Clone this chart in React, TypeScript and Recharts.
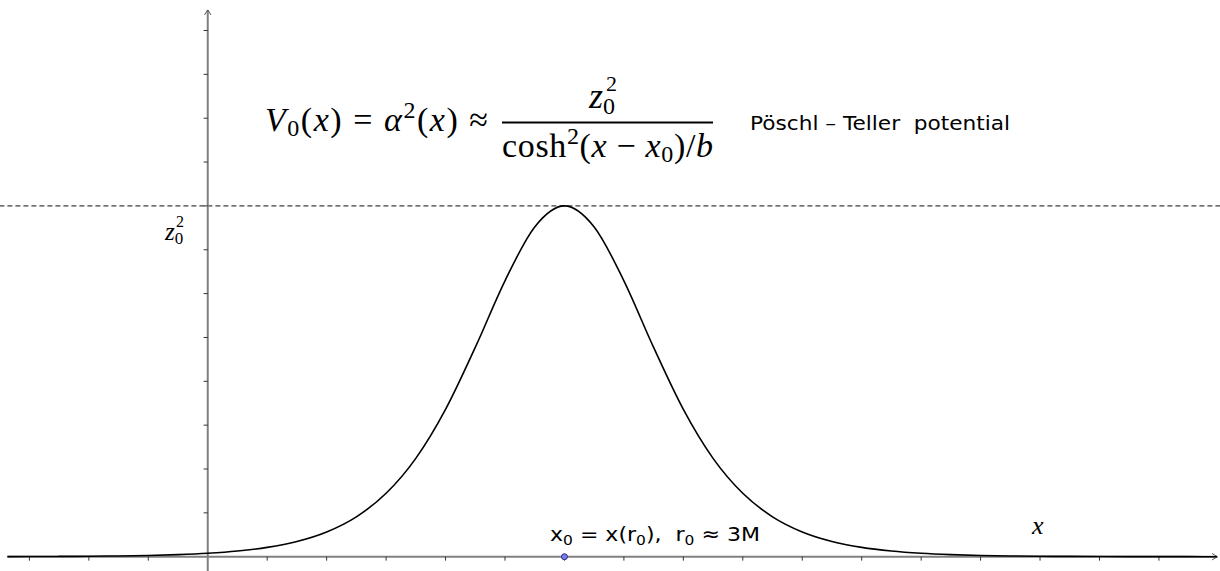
import { LineChart, XAxis, YAxis, Line, ReferenceLine, ReferenceDot, Customized } from 'recharts'

// Pöschl–Teller barrier (peak z0^2 = 8 at x0 = 6)
const xValues = [
  -3.5, -3, -2.5, -2, -1.5, -1, -0.5, 0, 0.5, 1, 1.5, 2, 2.5, 3, 3.5, 4, 4.5, 5, 5.5, 6,
  6.5, 7, 7.5, 8, 8.5, 9, 9.5, 10, 10.5, 11, 11.5, 12, 12.5, 13, 13.5, 14, 14.5, 15, 15.5,
  16, 16.5, 17
]
const vValues = [
  0.0024, 0.0039, 0.0065, 0.0107, 0.0177, 0.0291, 0.048, 0.0789, 0.13, 0.213, 0.348, 0.565,
  0.91, 1.446, 2.243, 3.36, 4.773, 6.292, 7.52, 8, 7.52, 6.292, 4.773, 3.36, 2.243, 1.446,
  0.91, 0.565, 0.348, 0.213, 0.13, 0.0789, 0.048, 0.0291, 0.0177, 0.0107, 0.0065, 0.0039,
  0.0024, 0.0015, 0.0009, 0.0005
]
const xTicks = [-3, -2, -1, 1, 2, 3, 4, 5, 6, 7, 8, 9, 10, 11, 12, 13, 14, 15, 16]
const yTicks = [1, 2, 3, 4, 5, 6, 7, 8, 9, 10, 11, 12]
const peakLevel = 8
const x0 = 6

const data = xValues.map((x, i) => ({ x, v: vValues[i] }))

const X_MIN = -3.37
const X_MAX = 16.98
const Y_MIN = -0.326
const Y_MAX = 12.47

const serif = "'Liberation Serif', 'DejaVu Serif', serif"
const sans = "'DejaVu Sans', 'Liberation Sans', sans-serif"

// axis line with a small open arrow head at its end
const ArrowAxis = (props: any) => {
  const { x1, y1, x2, y2 } = props
  const ang = Math.atan2(y2 - y1, x2 - x1)
  const len = 6
  const a1 = ang + Math.PI * 0.82
  const a2 = ang - Math.PI * 0.82
  return (
    <g>
      <line x1={x1} y1={y1} x2={x2} y2={y2} stroke="#808080" strokeWidth={2} />
      <path
        d={`M${x2 + len * Math.cos(a1)},${y2 + len * Math.sin(a1)} L${x2},${y2} L${x2 + len * Math.cos(a2)},${y2 + len * Math.sin(a2)}`}
        fill="none"
        stroke="#555"
        strokeWidth={1}
      />
    </g>
  )
}

const DashedFull = (props: any) => {
  const { x1, y1, x2, y2 } = props
  return (
    <line x1={x1 - 8} y1={y1} x2={x2 + 3} y2={y2} stroke="#111" strokeWidth={1} strokeDasharray="5 3" />
  )
}

function Overlay() {
  return (
    <g>
      {/* V0(x) = alpha^2(x) ≈ */}
      <text
        x={265}
        y={131}
        fontFamily={serif}
        fontSize={34}
        fill="#000"
        textLength={223}
        lengthAdjust="spacing"
        style={{ whiteSpace: 'pre' }}
      >
        <tspan fontStyle="italic">V</tspan>
        <tspan fontSize={24} dy={5}>0</tspan>
        <tspan dy={-5}>(</tspan>
        <tspan fontStyle="italic">x</tspan>
        <tspan>) = </tspan>
        <tspan fontStyle="italic">α</tspan>
        <tspan fontSize={24} dy={-13}>2</tspan>
        <tspan dy={13}>(</tspan>
        <tspan fontStyle="italic">x</tspan>
        <tspan>) ≈</tspan>
      </text>
      {/* fraction */}
      <text x={589} y={108} fontFamily={serif} fontSize={36} fill="#000">
        <tspan fontStyle="italic">z</tspan>
        <tspan fontSize={24} dy={6}>0</tspan>
      </text>
      <text x={606} y={91} fontFamily={serif} fontSize={22} fill="#000">
        2
      </text>
      <line x1={502} y1={122.5} x2={713} y2={122.5} stroke="#000" strokeWidth={2} />
      <text
        x={502}
        y={157}
        fontFamily={serif}
        fontSize={34}
        fill="#000"
        textLength={211}
        lengthAdjust="spacing"
        style={{ whiteSpace: 'pre' }}
      >
        <tspan>cosh</tspan>
        <tspan fontSize={24} dy={-13}>2</tspan>
        <tspan dy={13}>(</tspan>
        <tspan fontStyle="italic">x</tspan>
        <tspan> − </tspan>
        <tspan fontStyle="italic">x</tspan>
        <tspan fontSize={24} dy={5}>0</tspan>
        <tspan dy={-5}>)/</tspan>
        <tspan fontStyle="italic">b</tspan>
      </text>
      <text
        x={750}
        y={130}
        fontFamily={sans}
        fontSize={20}
        fill="#000"
        textLength={260}
        lengthAdjust="spacingAndGlyphs"
        style={{ whiteSpace: 'pre' }}
      >
        Pöschl – Teller  potential
      </text>
      {/* z0^2 level label */}
      <text x={165} y={240} fontFamily={serif} fontSize={25} fill="#000">
        <tspan fontStyle="italic">z</tspan>
        <tspan fontSize={17} dy={4}>0</tspan>
      </text>
      <text x={176} y={227} fontFamily={serif} fontSize={16} fill="#000">
        2
      </text>
      {/* x0 label */}
      <text
        x={550}
        y={541}
        fontFamily={sans}
        fontSize={20}
        fill="#000"
        textLength={210}
        lengthAdjust="spacingAndGlyphs"
        style={{ whiteSpace: 'pre' }}
      >
        <tspan>x</tspan>
        <tspan fontSize={14} dy={4}>0</tspan>
        <tspan dy={-4}> = x(r</tspan>
        <tspan fontSize={14} dy={4}>0</tspan>
        <tspan dy={-4}>),  r</tspan>
        <tspan fontSize={14} dy={4}>0</tspan>
        <tspan dy={-4}> ≈ 3M</tspan>
      </text>
      <text x={1032} y={534} fontFamily={serif} fontSize={26} fontStyle="italic" fill="#000">
        x
      </text>
    </g>
  )
}

export default function App() {
  return (
    <div style={{ position: 'absolute', left: 0, top: 0, background: '#fff' }}>
      <LineChart
        width={1220}
        height={571}
        data={data}
        margin={{ top: 9.9, right: 2.8, bottom: 0, left: 7.4 }}
      >
        <XAxis type="number" dataKey="x" domain={[X_MIN, X_MAX]} hide allowDataOverflow />
        <YAxis type="number" domain={[Y_MIN, Y_MAX]} hide allowDataOverflow />
        <ReferenceLine y={peakLevel} ifOverflow="visible" shape={DashedFull} />
        <ReferenceLine
          segment={[{ x: X_MIN, y: 0 }, { x: X_MAX, y: 0 }]}
          ifOverflow="visible"
          shape={ArrowAxis}
        />
        <ReferenceLine
          segment={[{ x: 0, y: Y_MIN }, { x: 0, y: Y_MAX }]}
          ifOverflow="visible"
          shape={ArrowAxis}
        />
        {xTicks.map((t) => (
          <ReferenceLine
            key={'xt' + t}
            segment={[{ x: t, y: 0 }, { x: t, y: -0.09 }]}
            ifOverflow="visible"
            stroke="#333"
            strokeWidth={1}
          />
        ))}
        {yTicks.map((t) => (
          <ReferenceLine
            key={'yt' + t}
            segment={[{ x: 0, y: t }, { x: -0.07, y: t }]}
            ifOverflow="visible"
            stroke="#333"
            strokeWidth={1}
          />
        ))}
        <Line
          type="monotone"
          dataKey="v"
          stroke="#000"
          strokeWidth={1.6}
          dot={false}
          isAnimationActive={false}
        />
        <ReferenceDot x={x0} y={0} r={3} fill="#7b7bf0" stroke="#2a2a80" strokeWidth={1} ifOverflow="visible" />
        <Customized component={Overlay} />
      </LineChart>
    </div>
  )
}
